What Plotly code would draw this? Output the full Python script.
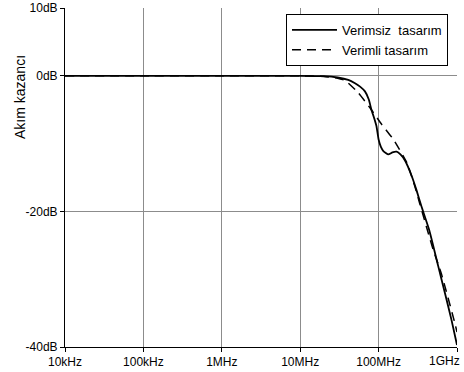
import plotly.graph_objects as go

# Frequencies (MHz) and gains (dB)
f_solid = [0.01, 0.1, 1, 10, 20, 30, 41, 50, 58, 67, 75, 81, 88, 94, 100, 107, 115, 133, 150,
           170, 190, 217, 263, 305, 355, 444, 574, 700, 850, 1000]
g_solid = [0, 0, 0, 0, -0.05, -0.25, -0.6, -1.1, -1.6, -2.3, -3.5, -5.0, -6.3, -7.45, -9.4,
           -10.5, -11.1, -11.6, -11.3, -11.2, -11.6, -12.5, -14.7, -16.9, -19.4, -22.8,
           -28.0, -32.0, -36.0, -39.7]

f_dash = [0.01, 0.1, 1, 10, 20, 30, 37.6, 55, 78, 110, 155, 229, 290, 336, 495, 632, 935, 1000]
g_dash = [0, 0, 0, 0, -0.1, -0.35, -0.7, -2.5, -4.75, -7.2, -9.4, -12.8, -16.3, -18.9,
          -25.6, -29.2, -36.4, -37.8]

x_tickvals = [0.01, 0.1, 1, 10, 100, 1000]
x_ticktext = ["10kHz", "100kHz", "1MHz", "10MHz", "100MHz", "1GHz"]
y_tickvals = [10, 0, -20, -40]
y_ticktext = ["10dB", "0dB", "-20dB", "-40dB"]

fig = go.Figure()
fig.add_trace(go.Scatter(x=f_solid, y=g_solid, mode="lines", name="Verimsiz  tasarım",
                         line=dict(color="black", width=1.8, shape="spline", smoothing=0.4)))
fig.add_trace(go.Scatter(x=f_dash, y=g_dash, mode="lines", name="Verimli tasarım",
                         line=dict(color="black", width=1.5, dash="9px,6px", shape="spline", smoothing=0.4)))

fam = "Liberation Sans, Arial, sans-serif"
font = dict(family=fam, size=12, color="black")

# last tick label drawn as an annotation so it can stay inside the page
shown_ticktext = x_ticktext[:-1] + [""]

fig.update_layout(
    width=464, height=372,
    margin=dict(l=65, r=7, t=8, b=25, autoexpand=False),
    paper_bgcolor="white", plot_bgcolor="white",
    font=font,
    showlegend=True,
    legend=dict(x=(286 - 65) / 392, y=(347 - 14) / 339, xanchor="left", yanchor="top",
                bordercolor="black", borderwidth=1, bgcolor="white",
                font=dict(family=fam, size=13, color="black"),
                tracegroupgap=0, itemwidth=45),
    xaxis=dict(type="log", range=[-2, 3], tickvals=x_tickvals, ticktext=shown_ticktext,
               showgrid=True, gridcolor="#8c8c8c", gridwidth=1,
               showline=True, linecolor="black", linewidth=1, mirror=False,
               ticks="outside", ticklen=4, tickcolor="black", zeroline=False,
               tickfont=font, automargin=False),
    yaxis=dict(range=[-40, 10], tickvals=y_tickvals, ticktext=y_ticktext,
               showgrid=True, gridcolor="#8c8c8c", gridwidth=1,
               showline=True, linecolor="black", linewidth=1,
               ticks="outside", ticklen=4, tickcolor="black", zeroline=False,
               tickfont=font, automargin=False),
    annotations=[
        dict(text="Akım kazancı", xref="paper", yref="paper",
             x=(20 - 65) / 392, y=(347 - 97) / 339, textangle=-90,
             showarrow=False, xanchor="center", yanchor="middle",
             font=dict(family=fam, size=14, color="black")),
        dict(text=x_ticktext[-1], xref="x", yref="paper",
             x=3, y=0, xanchor="right", yanchor="top", xshift=5, yshift=-5,
             showarrow=False, font=font),
    ],
)

fig.write_html("out.html", post_script="document.body.style.margin='0';",
               config={"displayModeBar": False})
